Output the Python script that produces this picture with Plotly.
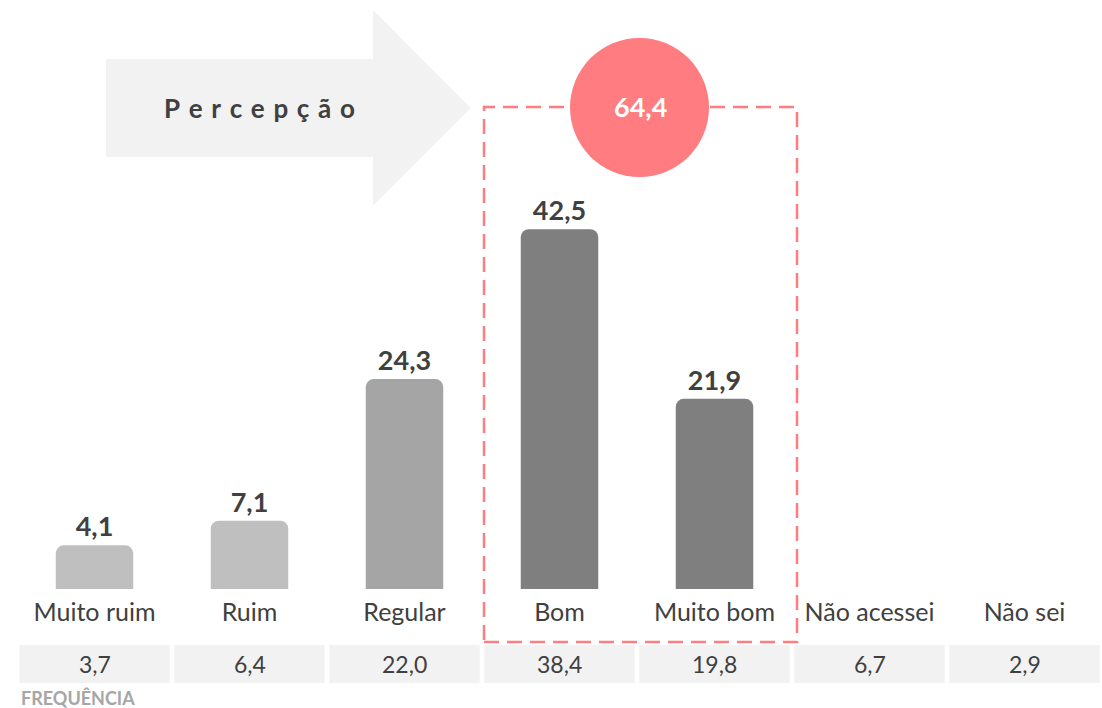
import plotly.graph_objects as go

# ---------------- data ----------------
categories = ["Muito ruim", "Ruim", "Regular", "Bom", "Muito bom", "Não acessei", "Não sei"]
bar_categories = ["Muito ruim", "Ruim", "Regular", "Bom", "Muito bom"]
bar_values = [4.1, 7.1, 24.3, 42.5, 21.9]
freq_values = [3.7, 6.4, 22.0, 38.4, 19.8, 6.7, 2.9]
highlight = ["Bom", "Muito bom"]
title_text = "Percepção"
freq_label = "FREQUÊNCIA"

# ---------------- styles ----------------
W, H = 1102, 708
FONT = "Lato"
DARK = "#404040"
bar_colors = ["#BFBFBF", "#BFBFBF", "#A5A5A5", "#7F7F7F", "#7F7F7F"]
PINK = "#FF7C80"
LIGHT = "#F2F2F2"
STUB = 1.2  # small extension of bars below the baseline (style)


def px(x):
    return x / W


def py(y):
    return 1 - y / H


fig = go.Figure()

# stub below baseline (decorative, same color)
fig.add_trace(go.Bar(
    x=bar_categories, y=[-STUB] * len(bar_categories),
    marker=dict(color=bar_colors, line=dict(width=0)),
    width=0.5, hoverinfo="skip", showlegend=False,
))
# main bars
fig.add_trace(go.Bar(
    x=bar_categories, y=bar_values,
    marker=dict(color=bar_colors, line=dict(width=0), cornerradius=8),
    width=0.5,
    texttemplate="%{y:.1f}", textposition="outside",
    textfont=dict(family=FONT, size=27, color=DARK, weight="bold"),
    cliponaxis=False, showlegend=False,
))

shapes = []
# arrow
ax = [(106, 59), (373, 59), (373, 10), (471, 108), (373, 206), (373, 157), (106, 157)]
path = "M " + " L ".join(f"{px(a):.5f},{py(b):.5f}" for a, b in ax) + " Z"
shapes.append(dict(type="path", xref="paper", yref="paper", path=path,
                   fillcolor=LIGHT, line=dict(width=0), layer="below"))
# dashed highlight box
shapes.append(dict(type="rect", xref="paper", yref="paper",
                   x0=px(484), x1=px(797), y0=py(642), y1=py(107),
                   line=dict(color=PINK, width=2.5, dash="15px,8px"),
                   fillcolor="rgba(0,0,0,0)", layer="above"))
# circle
shapes.append(dict(type="circle", xref="paper", yref="paper",
                   x0=px(570), x1=px(709), y0=py(177), y1=py(38),
                   fillcolor=PINK, line=dict(width=0), layer="above"))
# frequency table cells
for i, c in enumerate(categories):
    shapes.append(dict(type="rect", xref="x", yref="paper",
                       x0=i - 0.5 + 0.015, x1=i + 0.5 - 0.015,
                       y0=py(683), y1=py(645),
                       fillcolor=LIGHT, line=dict(width=0), layer="below"))

annotations = []
annotations.append(dict(xref="paper", yref="paper", x=px(259), y=py(108),
                        text="\u2004".join(title_text), showarrow=False,
                        font=dict(family=FONT, size=26, color=DARK, weight="bold"),
                        xanchor="center", yanchor="middle"))
total = sum(v for c, v in zip(bar_categories, bar_values) if c in highlight)
annotations.append(dict(xref="paper", yref="paper", x=px(640), y=py(107),
                        text=f"{total:.1f}".replace(".", ","), showarrow=False,
                        font=dict(family=FONT, size=27, color="white", weight="bold"),
                        xanchor="center", yanchor="middle"))
for c, v in zip(categories, freq_values):
    annotations.append(dict(xref="x", yref="paper", x=c, y=py(664),
                            text=f"{v:.1f}".replace(".", ","), showarrow=False,
                            font=dict(family=FONT, size=23, color=DARK),
                            xanchor="center", yanchor="middle"))
annotations.append(dict(xref="paper", yref="paper", x=px(19), y=py(698),
                        text=freq_label, showarrow=False,
                        font=dict(family=FONT, size=18, color="#A6A6A6", weight="bold"),
                        xanchor="left", yanchor="middle"))

fig.update_layout(
    width=W, height=H,
    margin=dict(l=0, r=0, t=0, b=0),
    paper_bgcolor="white", plot_bgcolor="white",
    barmode="overlay",
    separators=",.",
    showlegend=False,
    font=dict(family=FONT, color=DARK),
    xaxis=dict(type="category", categoryorder="array", categoryarray=categories,
               range=[-0.5, 6.5], domain=[px(17), 1],
               showgrid=False, zeroline=False, showline=False, ticks="",
               tickfont=dict(family=FONT, size=25, color=DARK),
               ticklabelstandoff=6),
    yaxis=dict(range=[-STUB, 70.35], domain=[py(589), 1],
               showgrid=False, zeroline=False, showline=False,
               showticklabels=False, ticks=""),
    shapes=shapes,
    annotations=annotations,
)

fig.write_html("out.html", config={"displayModeBar": False},
               post_script="document.body.style.margin='0px';document.body.style.overflow='hidden';")
